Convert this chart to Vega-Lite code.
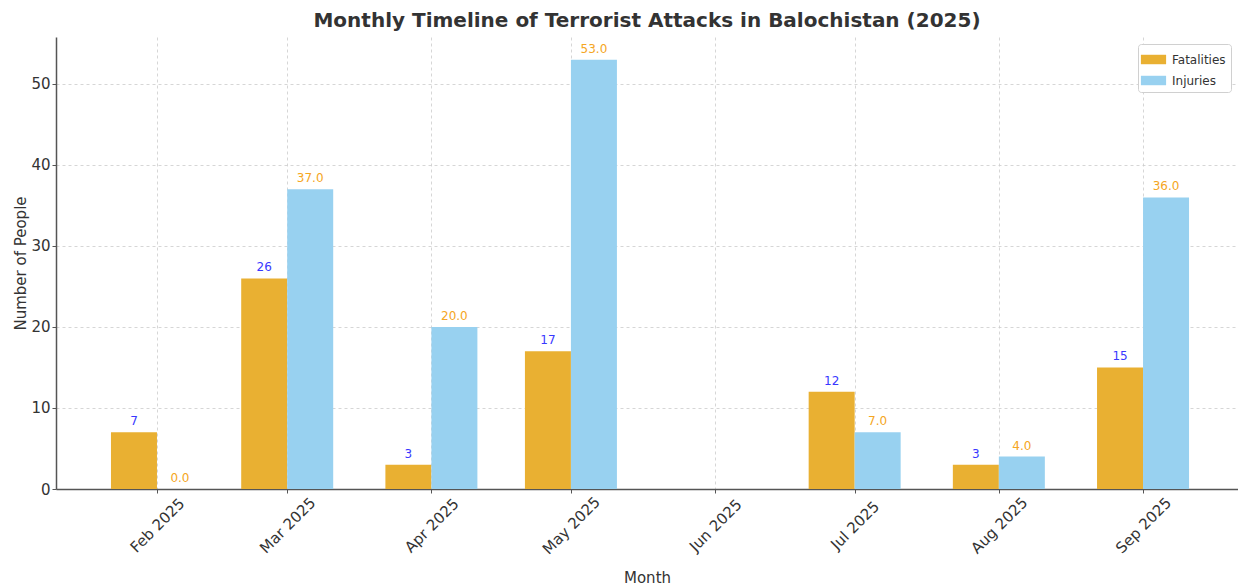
{
  "$schema": "https://vega.github.io/schema/vega-lite/v6.json",
  "autosize": "none",
  "width": 1182,
  "height": 452,
  "padding": {"left": 56, "top": 37, "right": 0, "bottom": 97},
  "background": "white",
  "config": {
    "font": "DejaVu Sans",
    "view": {"stroke": null},
    "axis": {
      "labelFont": "DejaVu Sans",
      "titleFont": "DejaVu Sans",
      "labelColor": "#333333",
      "titleColor": "#333333",
      "titleFontWeight": "normal",
      "domainColor": "#555555",
      "domainWidth": 1.5,
      "tickColor": "#555555",
      "tickSize": 4,
      "gridColor": "#cccccc",
      "gridDash": [3, 3],
      "gridWidth": 0.8
    }
  },
  "title": {
    "text": "Monthly Timeline of Terrorist Attacks in Balochistan (2025)",
    "font": "DejaVu Sans",
    "fontSize": 20,
    "fontWeight": "bold",
    "color": "#333333",
    "anchor": "middle",
    "offset": 6
  },
  "data": {
    "values": [
      {"month": "2025-02-01", "series": "Fatalities", "value": 7},
      {"month": "2025-03-01", "series": "Fatalities", "value": 26},
      {"month": "2025-04-01", "series": "Fatalities", "value": 3},
      {"month": "2025-05-01", "series": "Fatalities", "value": 17},
      {"month": "2025-07-01", "series": "Fatalities", "value": 12},
      {"month": "2025-08-01", "series": "Fatalities", "value": 3},
      {"month": "2025-09-01", "series": "Fatalities", "value": 15},
      {"month": "2025-02-01", "series": "Injuries", "value": 0},
      {"month": "2025-03-01", "series": "Injuries", "value": 37},
      {"month": "2025-04-01", "series": "Injuries", "value": 20},
      {"month": "2025-05-01", "series": "Injuries", "value": 53},
      {"month": "2025-07-01", "series": "Injuries", "value": 7},
      {"month": "2025-08-01", "series": "Injuries", "value": 4},
      {"month": "2025-09-01", "series": "Injuries", "value": 36}
    ]
  },
  "encoding": {
    "x": {
      "field": "month",
      "type": "temporal",
      "scale": {
        "type": "utc",
        "padding": 0,
        "domain": [
          {"year": 2025, "month": 1, "date": 10, "hours": 7, "utc": true},
          {"year": 2025, "month": 9, "date": 21, "hours": 10, "utc": true}
        ]
      },
      "axis": {
        "title": "Month",
        "titleFontSize": 15,
        "titlePadding": 14,
        "labelFontSize": 15,
        "labelAngle": -45,
        "labelAlign": "center",
        "labelBaseline": "middle",
        "labelPadding": 32,
        "labelExpr": "utcFormat(datum.value, '%b %Y')",
        "labelOverlap": false,
        "values": [
          {"year": 2025, "month": 2, "date": 1, "utc": true},
          {"year": 2025, "month": 3, "date": 1, "utc": true},
          {"year": 2025, "month": 4, "date": 1, "utc": true},
          {"year": 2025, "month": 5, "date": 1, "utc": true},
          {"year": 2025, "month": 6, "date": 1, "utc": true},
          {"year": 2025, "month": 7, "date": 1, "utc": true},
          {"year": 2025, "month": 8, "date": 1, "utc": true},
          {"year": 2025, "month": 9, "date": 1, "utc": true}
        ],
        "grid": true
      }
    },
    "y": {
      "field": "value",
      "type": "quantitative",
      "scale": {"domain": [0, 55.8], "nice": false},
      "axis": {
        "title": "Number of People",
        "titleFontSize": 15,
        "titlePadding": 2,
        "labelFontSize": 15,
        "values": [0, 10, 20, 30, 40, 50],
        "grid": true
      }
    }
  },
  "layer": [
    {
      "transform": [{"filter": "datum.series === 'Fatalities'"}],
      "mark": {"type": "bar", "width": 46, "xOffset": -23},
      "encoding": {
        "color": {
          "field": "series",
          "type": "nominal",
          "scale": {"domain": ["Fatalities", "Injuries"], "range": ["#E9B032", "#98D1F0"]},
          "legend": {
            "title": null,
            "orient": "none",
            "legendX": 1082,
            "legendY": 7,
            "padding": 5,
            "strokeColor": "#d0d0d0",
            "fillColor": "white",
            "cornerRadius": 3,
            "labelFont": "DejaVu Sans",
            "labelFontSize": 12,
            "labelColor": "#333333",
            "symbolType": "M-1.2,-0.45H1.2V0.45H-1.2Z",
            "symbolSize": 441,
            "symbolStrokeWidth": 0,
            "rowPadding": 4,
            "labelOffset": 8
          }
        }
      }
    },
    {
      "transform": [{"filter": "datum.series === 'Injuries'"}],
      "mark": {"type": "bar", "width": 46, "xOffset": 23},
      "encoding": {
        "color": {"field": "series", "type": "nominal"}
      }
    },
    {
      "transform": [{"filter": "datum.series === 'Fatalities'"}],
      "mark": {"type": "text", "xOffset": -23, "dy": -7, "baseline": "alphabetic", "fontSize": 12, "color": "#3838FF"},
      "encoding": {"text": {"field": "value", "type": "quantitative", "format": "d"}}
    },
    {
      "transform": [{"filter": "datum.series === 'Injuries'"}],
      "mark": {"type": "text", "xOffset": 23, "dy": -7, "baseline": "alphabetic", "fontSize": 12, "color": "#F5A623"},
      "encoding": {"text": {"field": "value", "type": "quantitative", "format": ".1f"}}
    }
  ]
}
